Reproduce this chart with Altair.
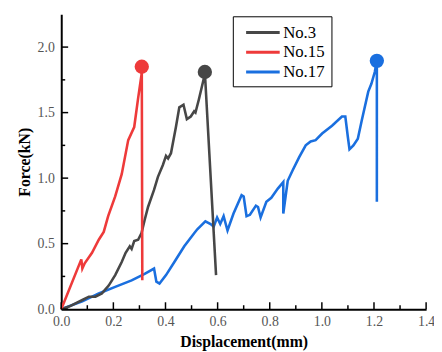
import altair as alt
import pandas as pd

# ---- data ----
series_names = ["No.3", "No.15", "No.17"]
series_colors = ["#474747", "#ee3a3a", "#1a6fdf"]

no3_x = [0.0, 0.03, 0.081, 0.106, 0.131, 0.156, 0.182, 0.207, 0.232, 0.247, 0.263, 0.27, 0.28, 0.295,
         0.308, 0.32, 0.333, 0.356, 0.371, 0.39, 0.402, 0.41, 0.421, 0.44, 0.453, 0.469, 0.482, 0.497,
         0.51, 0.515, 0.528, 0.547, 0.551, 0.594]
no3_y = [0.0, 0.02, 0.07, 0.095, 0.095, 0.12, 0.18, 0.26, 0.36, 0.43, 0.48, 0.46, 0.52, 0.53,
         0.58, 0.68, 0.78, 0.91, 1.01, 1.10, 1.17, 1.15, 1.19, 1.39, 1.54, 1.56, 1.45, 1.47,
         1.51, 1.50, 1.60, 1.76, 1.81, 0.26]

no15_x = [0.0, 0.077, 0.081, 0.09, 0.118, 0.144, 0.163, 0.18, 0.207, 0.232, 0.257, 0.28, 0.295, 0.308,
          0.309, 0.311]
no15_y = [0.0, 0.38, 0.31, 0.35, 0.43, 0.53, 0.59, 0.71, 0.86, 1.03, 1.29, 1.39, 1.61, 1.79,
          1.85, 0.22]

no17_x = [0.0, 0.081, 0.144, 0.207, 0.27, 0.32, 0.356, 0.365, 0.377, 0.402, 0.434, 0.472, 0.51, 0.522,
          0.553, 0.573, 0.585, 0.598, 0.61, 0.623, 0.638, 0.661, 0.692, 0.70, 0.711, 0.724, 0.747,
          0.755, 0.765, 0.787, 0.806, 0.831, 0.852, 0.852, 0.869, 0.888, 0.913, 0.938, 0.957, 0.976,
          1.001, 1.039, 1.077, 1.09, 1.10, 1.106, 1.121, 1.138, 1.153, 1.178, 1.19, 1.203, 1.211, 1.211]
no17_y = [0.0, 0.06, 0.12, 0.17, 0.22, 0.27, 0.31, 0.21, 0.195, 0.26, 0.36, 0.48, 0.58, 0.61,
          0.67, 0.65, 0.63, 0.70, 0.65, 0.71, 0.60, 0.73, 0.87, 0.86, 0.71, 0.72, 0.79,
          0.78, 0.70, 0.82, 0.85, 0.92, 0.97, 0.73, 0.98, 1.06, 1.16, 1.25, 1.28, 1.29,
          1.34, 1.40, 1.47, 1.47, 1.31, 1.22, 1.25, 1.30, 1.44, 1.66, 1.72, 1.81, 1.895, 0.82]

peak_x = [0.551, 0.309, 1.211]
peak_y = [1.81, 1.85, 1.895]

x_ticks = [0.0, 0.2, 0.4, 0.6, 0.8, 1.0, 1.2, 1.4]
x_minor = [0.1, 0.3, 0.5, 0.7, 0.9, 1.1, 1.3]
y_ticks = [0.0, 0.5, 1.0, 1.5, 2.0]
y_minor = [0.25, 0.75, 1.25, 1.75]

SERIF = "Liberation Serif"

# ---- tables ----
rows = []
for name, xs_, ys_ in [("No.17", no17_x, no17_y), ("No.3", no3_x, no3_y), ("No.15", no15_x, no15_y)]:
    for i, (a, b) in enumerate(zip(xs_, ys_)):
        rows.append({"series": name, "x": a, "y": b, "i": i})
lines_df = pd.DataFrame(rows)
peaks_df = pd.DataFrame({"series": series_names, "x": peak_x, "y": peak_y})

W, H = 370, 299
xs = alt.Scale(domain=[0, 1.4], nice=False, zero=False)
ys = alt.Scale(domain=[0, 2.25], nice=False, zero=False)
color = alt.Color("series:N",
                  scale=alt.Scale(domain=series_names, range=series_colors),
                  legend=alt.Legend(title=None, orient="none", legendX=174, legendY=2,
                                    symbolType="M-2,0H2", symbolStrokeWidth=3, symbolSize=290,
                                    labelFont=SERIF, labelFontSize=17, labelColor="black",
                                    strokeColor="black", fillColor="white", padding=6,
                                    rowPadding=1, labelOffset=10, symbolOffset=14))

xaxis = alt.Axis(values=x_ticks, format=".1f", ticks=False, grid=False, domainColor="black",
                 domainWidth=2, labelFont=SERIF, labelFontSize=14, labelColor="#555",
                 labelPadding=6, title="Displacement(mm)", titleFont=SERIF,
                 titleFontSize=16, titleFontWeight="bold", titleColor="black", titlePadding=5,
                 labelFlush=False)
yaxis = alt.Axis(values=y_ticks, format=".1f", ticks=False, grid=False, domainColor="black",
                 domainWidth=2, labelFont=SERIF, labelFontSize=14, labelColor="#555",
                 labelPadding=7, title="Force(kN)", titleFont=SERIF,
                 titleFontSize=16, titleFontWeight="bold", titleColor="black", titlePadding=5,
                 labelFlush=False)

base_lines = alt.Chart(lines_df).mark_line(strokeWidth=2.6).encode(
    x=alt.X("x:Q", scale=xs, axis=xaxis),
    y=alt.Y("y:Q", scale=ys, axis=yaxis),
    color=color,
    detail="series:N",
    order="i:Q",
)

peaks = alt.Chart(peaks_df).mark_circle(size=210, opacity=1).encode(
    x=alt.X("x:Q", scale=xs), y=alt.Y("y:Q", scale=ys), color=color)

xt_df = pd.DataFrame({"t": x_ticks})
xm_df = pd.DataFrame({"t": x_minor})
yt_df = pd.DataFrame({"t": y_ticks})
ym_df = pd.DataFrame({"t": y_minor})

xt = alt.Chart(xt_df).mark_rule(color="black", strokeWidth=1.5).encode(
    x=alt.X("t:Q", scale=xs), y=alt.value(H), y2=alt.value(H - 7))
xm = alt.Chart(xm_df).mark_rule(color="black", strokeWidth=1.5).encode(
    x=alt.X("t:Q", scale=xs), y=alt.value(H), y2=alt.value(H - 4))
yt = alt.Chart(yt_df).mark_rule(color="black", strokeWidth=1.5).encode(
    y=alt.Y("t:Q", scale=ys), x=alt.value(0), x2=alt.value(7))
ym = alt.Chart(ym_df).mark_rule(color="black", strokeWidth=1.5).encode(
    y=alt.Y("t:Q", scale=ys), x=alt.value(0), x2=alt.value(4))

chart = alt.layer(base_lines, peaks, xt, xm, yt, ym).properties(
    width=W, height=H,
    autosize=alt.AutoSizeParams(type="none"),
    padding={"left": 54, "top": 4, "right": 8, "bottom": 40},
).configure_view(stroke=None)

chart.save("out.html", embed_options={"renderer": "svg", "actions": False})
